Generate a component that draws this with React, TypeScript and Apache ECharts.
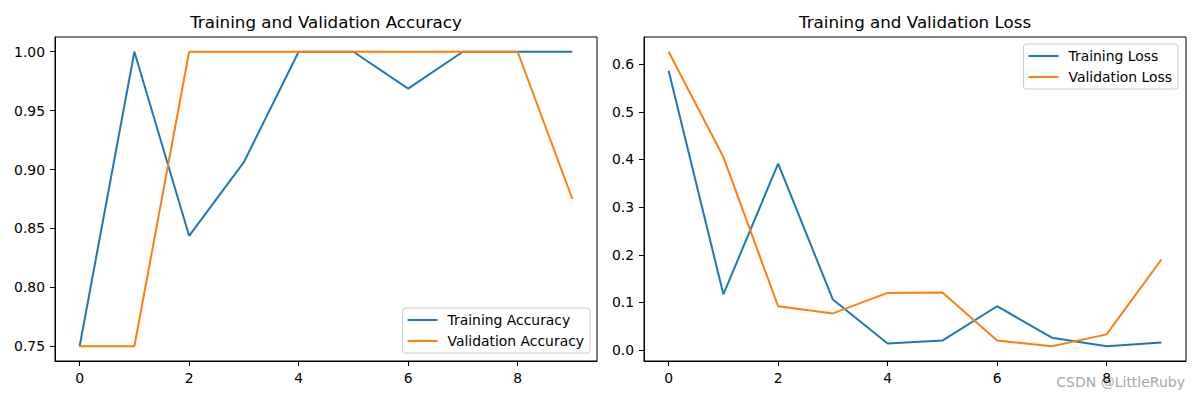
import React, { useEffect, useRef } from "react";
import * as echarts from "echarts";

const epochs = [0, 1, 2, 3, 4, 5, 6, 7, 8, 9];
const trainAcc = [0.75, 1.0, 0.84375, 0.90625, 1.0, 1.0, 0.96875, 1.0, 1.0, 1.0];
const valAcc = [0.75, 0.75, 1.0, 1.0, 1.0, 1.0, 1.0, 1.0, 1.0, 0.875];
const trainLoss = [0.586, 0.117, 0.391, 0.106, 0.014, 0.02, 0.092, 0.026, 0.008, 0.016];
const valLoss = [0.626, 0.405, 0.092, 0.077, 0.12, 0.121, 0.02, 0.008, 0.033, 0.19];
const xTicks = [0, 2, 4, 6, 8];
const accTicks = [0.75, 0.8, 0.85, 0.9, 0.95, 1.0];
const lossTicks = [0.0, 0.1, 0.2, 0.3, 0.4, 0.5, 0.6];

const FONT = "DejaVu Sans";
const BLUE = "#1f77b4";
const ORANGE = "#ff7f0e";

const pairs = (ys: number[]) => epochs.map((x, i) => [x, ys[i]]);

export default function App() {
  const ref = useRef<HTMLDivElement>(null);
  useEffect(() => {
    if (!ref.current) return;
    const chart = echarts.init(ref.current, null, { renderer: "svg" });
    const xAxisBase = (gridIndex: number) => ({
      type: "value",
      gridIndex,
      min: -0.45,
      max: 9.45,
      splitLine: { show: false },
      axisLine: { show: true, onZero: false, lineStyle: { color: "#000", width: 1 } },
      axisTick: { show: true, customValues: xTicks, length: 5, lineStyle: { color: "#000" } },
      axisLabel: {
        customValues: xTicks,
        margin: 10,
        color: "#000",
        fontFamily: FONT,
        fontSize: 13.9,
      },
    });
    const yAxisBase = (gridIndex: number, min: number, max: number, ticks: number[], dec: number) => ({
      type: "value",
      gridIndex,
      min,
      max,
      splitLine: { show: false },
      axisLine: { show: true, onZero: false, lineStyle: { color: "#000", width: 1 } },
      axisTick: { show: true, customValues: ticks, length: 5, lineStyle: { color: "#000" } },
      axisLabel: {
        customValues: ticks,
        margin: 10,
        color: "#000",
        fontFamily: FONT,
        fontSize: 13.9,
        formatter: (v: number) => v.toFixed(dec),
      },
    });
    const legendBase = {
      orient: "vertical",
      icon: "rect",
      itemWidth: 30,
      itemHeight: 2,
      itemGap: 5,
      padding: [4, 6, 4, 5],
      backgroundColor: "rgba(255,255,255,0.8)",
      borderColor: "#cccccc",
      borderWidth: 1,
      borderRadius: 3,
      textStyle: {
        fontFamily: FONT,
        fontSize: 13.9,
        color: "#000",
        lineHeight: 16,
        padding: [0, 0, 0, 5],
      },
    };
    const lineSeries = (name: string, xi: number, ys: number[], color: string) => ({
      type: "line",
      name,
      xAxisIndex: xi,
      yAxisIndex: xi,
      data: pairs(ys),
      showSymbol: false,
      symbol: "none",
      lineStyle: { color, width: 2 },
      itemStyle: { color },
    });
    chart.setOption({
      animation: false,
      title: [
        {
          text: "Training and Validation Accuracy",
          left: 326,
          top: 13,
          textAlign: "center",
          padding: 0,
          textStyle: { fontFamily: FONT, fontSize: 16.7, fontWeight: "normal", color: "#000" },
        },
        {
          text: "Training and Validation Loss",
          left: 915,
          top: 13,
          textAlign: "center",
          padding: 0,
          textStyle: { fontFamily: FONT, fontSize: 16.7, fontWeight: "normal", color: "#000" },
        },
      ],
      grid: [
        { left: 55, right: 603, top: 37, bottom: 39, show: true, borderColor: "#000", borderWidth: 1 },
        { left: 644, right: 14, top: 37, bottom: 39, show: true, borderColor: "#000", borderWidth: 1 },
      ],
      xAxis: [xAxisBase(0), xAxisBase(1)],
      yAxis: [
        yAxisBase(0, 0.7375, 1.0125, accTicks, 2),
        yAxisBase(1, -0.0229, 0.6569, lossTicks, 1),
      ],
      legend: [
        { ...legendBase, data: ["Training Accuracy", "Validation Accuracy"], right: 610, top: 308 },
        { ...legendBase, data: ["Training Loss", "Validation Loss"], right: 22, top: 44 },
      ],
      graphic: [
        {
          type: "text",
          right: 15,
          top: 375,
          style: {
            text: "CSDN @LittleRuby",
            fill: "#a8a8a8",
            font: `14px ${FONT}`,
          },
        },
      ],
      series: [
        lineSeries("Training Accuracy", 0, trainAcc, BLUE),
        lineSeries("Validation Accuracy", 0, valAcc, ORANGE),
        lineSeries("Training Loss", 1, trainLoss, BLUE),
        lineSeries("Validation Loss", 1, valLoss, ORANGE),
      ],
    });
    return () => chart.dispose();
  }, []);
  return (
    <div
      ref={ref}
      style={{ position: "fixed", left: 0, top: 0, width: 1200, height: 400, background: "#fff" }}
    />
  );
}
